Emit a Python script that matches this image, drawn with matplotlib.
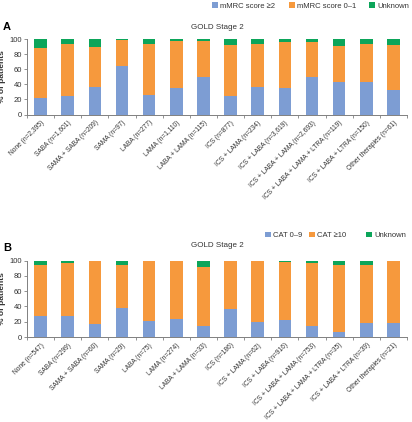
import matplotlib
matplotlib.use("Agg")
import matplotlib.pyplot as plt
import numpy as np

plt.rcParams['font.family'] = ['Liberation Sans', 'DejaVu Sans']

therapies = ["None", "SABA", "SAMA + SABA", "SAMA", "LABA", "LAMA", "LABA + LAMA",
             "ICS", "ICS + LAMA", "ICS + LABA", "ICS + LABA + LAMA",
             "ICS + LABA + LAMA + LTRA", "ICS + LABA + LTRA", "Other therapies"]
n_a = ["2,395", "1,601", "209", "97", "277", "1,110", "115", "877", "234", "3,619",
       "2,693", "119", "150", "61"]
n_b = ["547", "299", "60", "29", "75", "274", "33", "186", "62", "916", "753", "35",
       "39", "21"]

# Panel A: mMRC
mmrc_ge2 = [22, 24, 36, 64, 26, 35, 50, 24, 36, 35, 50, 43, 43, 33]
mmrc_01 = [66, 69, 53, 35, 67, 63, 48, 68.5, 58, 61, 46, 48, 50, 59]
mmrc_unk = [12, 7, 11, 1, 7, 2, 2, 7.5, 6, 4, 4, 9, 7, 8]

# Panel B: CAT
cat_09 = [27, 27, 17, 38, 21, 23.5, 15, 36, 19, 22, 14, 6, 18, 18]
cat_ge10 = [67, 69.5, 81.7, 56, 79, 75.5, 76.5, 63, 81, 76, 83, 88.5, 76.5, 82]
cat_unk = [6, 3.5, 1.3, 6, 0, 1, 8.5, 1, 0, 2, 3, 5.5, 5.5, 0]

BLUE = "#7d9dd3"
ORANGE = "#f6993d"
GREEN = "#0ca55a"
GREY = "#808080"
TXT = "#333333"

fig = plt.figure(figsize=(4.12, 4.22), dpi=100)
W, H = 412, 422
AX_L, AX_R = 27, 407

def add_axes(top_px, bottom_px):
    return fig.add_axes([AX_L / W, 1 - bottom_px / H, (AX_R - AX_L) / W,
                         (bottom_px - top_px) / H])

def draw(ax, s1, s2, s3, ns, labels, title, tpad):
    x = np.arange(len(therapies))
    s1 = np.array(s1, float); s2 = np.array(s2, float); s3 = np.array(s3, float)
    w = 0.46
    b1 = ax.bar(x, s1, w, color=BLUE, label=labels[0])
    b2 = ax.bar(x, s2, w, bottom=s1, color=ORANGE, label=labels[1])
    b3 = ax.bar(x, s3, w, bottom=s1 + s2, color=GREEN, label=labels[2])
    ax.set_xlim(-0.5, len(therapies) - 0.5)
    ax.set_ylim(0, 100)
    ax.set_yticks([0, 20, 40, 60, 80, 100])
    ax.tick_params(axis='y', labelsize=5.5, length=2.5, width=0.6, color=GREY,
                   labelcolor=TXT, pad=1.2)
    ax.set_xticks(np.arange(-0.5, len(therapies), 1.0))
    ax.set_xticklabels([])
    ax.tick_params(axis='x', length=2.5, width=0.6, color=GREY)
    ax.set_xticks(x, minor=True)
    ax.set_xticklabels([f"{t} (n={n})" for t, n in zip(therapies, ns)], minor=True,
                       rotation=45, ha='right', va='top', rotation_mode='anchor',
                       fontsize=4.8, color=TXT)
    ax.tick_params(axis='x', which='minor', length=0, pad=3.5)
    for s in ('top', 'right'):
        ax.spines[s].set_visible(False)
    for s in ('left', 'bottom'):
        ax.spines[s].set_color(GREY)
        ax.spines[s].set_linewidth(0.7)
    ax.set_ylabel("% of patients", fontsize=6.0, fontweight='bold', color=TXT)
    ax.yaxis.set_label_coords((6.5 - AX_L) / (AX_R - AX_L), 0.5)
    ax.set_title(title, fontsize=5.8, color=TXT, pad=tpad)
    return (b1, b2, b3)

axA = add_axes(39, 114.5)
hA = draw(axA, mmrc_ge2, mmrc_01, mmrc_unk, n_a,
          ["mMRC score \u22652", "mMRC score 0\u20131", "Unknown"], "GOLD Stage 2", 7.5)
axB = add_axes(260.5, 337)
hB = draw(axB, cat_09, cat_ge10, cat_unk, n_b,
          ["CAT 0\u20139", "CAT \u226510", "Unknown"], "GOLD Stage 2", 10)

def place_legend(handles, xs_px, y_px):
    for h, xp in zip(handles, xs_px):
        leg = fig.legend(handles=[h], loc='center left',
                         bbox_to_anchor=(xp / W, 1 - y_px / H),
                         frameon=False, fontsize=5.5, handlelength=0.75,
                         handleheight=0.75, handletextpad=0.3,
                         borderpad=0, borderaxespad=0)
        for t in leg.get_texts():
            t.set_color(TXT)

place_legend(hA, [212, 289, 369], 6)
place_legend(hB, [265, 309, 366], 235.5)

fig.text(3 / W, 1 - 27 / H, "A", fontsize=8, fontweight='bold', va='center', ha='left')
fig.text(3 / W, 1 - 248 / H, "B", fontsize=8, fontweight='bold', va='center', ha='left')

fig.savefig("out.png", dpi=100)
